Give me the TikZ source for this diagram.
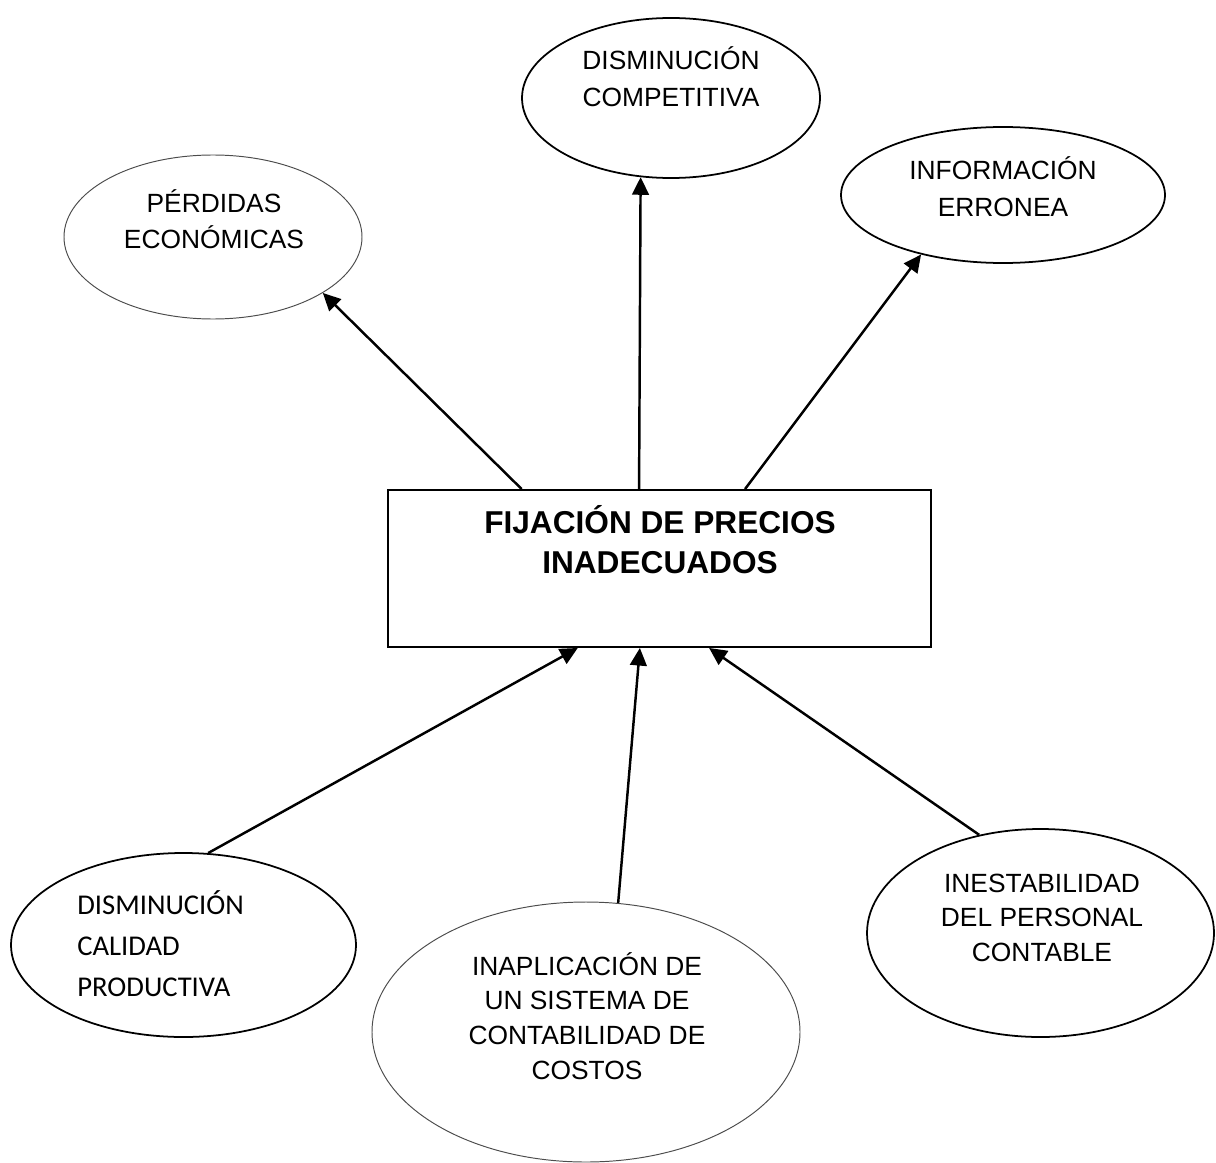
\documentclass[tikz,border=0pt]{standalone}
\usepackage{fontspec}
\setmainfont{Liberation Sans}
\newfontfamily\calibrifont{Carlito}
\usetikzlibrary{shapes.geometric,arrows.meta,calc}
% one drawing unit
\newcommand\pxu{0.02cm}
% stacked text lines, baseline at the first line
\newcommand\rowsc[1]{\begin{tabular}[t]{@{}c@{}}#1\end{tabular}}
\newcommand\rowsl[1]{\begin{tabular}[t]{@{}l@{}}#1\end{tabular}}

\begin{document}
\begin{tikzpicture}[x=0.02cm,y=-0.02cm,
  bubble/.style={ellipse, draw=black, line width=1pt, inner sep=0pt},
  thinbubble/.style={bubble, draw=black!70, line width=0.55pt},
  caption/.style={anchor=base, inner sep=0pt, font=\fontsize{15}{21}\selectfont},
  arr/.style={line width=1.4pt, -{Triangle[length=10pt,width=9.5pt]}},
]
\useasboundingbox (0,0) rectangle (1216,1162);

% central problem
\node[draw, line width=1.1pt, minimum width=543*\pxu, minimum height=157*\pxu, inner sep=0pt] (fix) at (659.5,568.5) {};
\node[anchor=base, inner sep=0pt, font=\bfseries\fontsize{18}{23}\selectfont] (title) at (660,533) {\rowsc{FIJACIÓN DE PRECIOS\\INADECUADOS}};

% effects
\node[thinbubble, minimum width=298*\pxu, minimum height=164*\pxu] (per) at (213,237) {};
\node[caption, font=\fontsize{15}{20.4}\selectfont] (pert) at (214,212.3) {\rowsc{PÉRDIDAS\\ECONÓMICAS}};

\node[bubble, minimum width=298*\pxu, minimum height=160*\pxu] (comp) at (671,98) {};
\node[caption] (compt) at (671,69.3) {\rowsc{DISMINUCIÓN\\COMPETITIVA}};

\node[bubble, minimum width=324*\pxu, minimum height=136*\pxu] (info) at (1003,195) {};
\node[caption] (infot) at (1003,180) {\rowsc{INFORMACIÓN\\ERRONEA}};

% causes
\node[bubble, minimum width=345*\pxu, minimum height=184*\pxu] (cal) at (183.5,945) {};
\node[caption, anchor=base west, font=\calibrifont\fontsize{16.3}{23.5}\selectfont] (calt) at (77,914) {\rowsl{DISMINUCIÓN\\CALIDAD\\PRODUCTIVA}};

\node[thinbubble, minimum width=428*\pxu, minimum height=260*\pxu] (inap) at (586,1032) {};
\node[caption, font=\fontsize{15}{19.8}\selectfont] (inapt) at (587,975) {\rowsc{INAPLICACIÓN DE\\UN SISTEMA DE\\CONTABILIDAD DE\\COSTOS}};

\node[bubble, minimum width=347*\pxu, minimum height=208*\pxu] (ines) at (1040.5,933) {};
\node[caption, font=\fontsize{15}{19.8}\selectfont] (inest) at (1042,892) {\rowsc{INESTABILIDAD\\DEL PERSONAL\\CONTABLE}};

% connection points on the box
\coordinate (t1) at ($(fix.north west)!0.247!(fix.north east)$);
\coordinate (t2) at ($(fix.north west)!0.4625!(fix.north east)$);
\coordinate (t3) at ($(fix.north west)!0.657!(fix.north east)$);
\coordinate (b1) at ($(fix.south west)!0.350!(fix.south east)$);
\coordinate (b2) at ($(fix.south west)!0.464!(fix.south east)$);
\coordinate (b3) at ($(fix.south west)!0.591!(fix.south east)$);

% arrows
\draw[arr] (t1) -- (per.-27.2);
\draw[arr] (t2) -- (comp.-111.6);
\draw[arr] (t3) -- (info.-144);
\draw[arr] (cal.75) -- (b1);
\draw[arr] (inap.76) -- (b2);
\draw[arr] (ines.122) -- (b3);
\end{tikzpicture}
\end{document}
